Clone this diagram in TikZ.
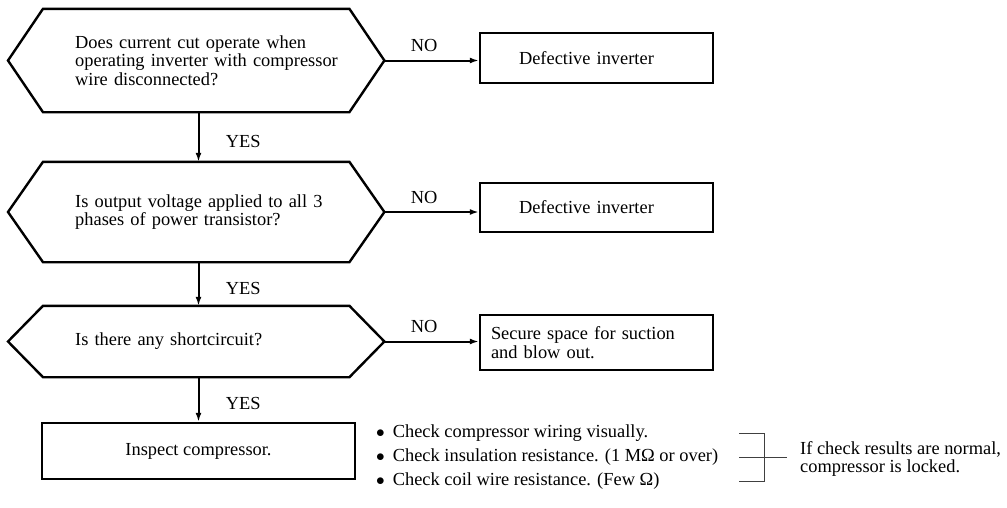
\documentclass[tikz,border=0pt]{standalone}
\usepackage{fontspec}
\setmainfont{Liberation Serif}
\usetikzlibrary{arrows.meta,positioning}

\begin{document}
\begin{tikzpicture}[
  x=1pt, y=-1pt,
  font=\fontsize{18.4pt}{18.5pt}\selectfont,
  outline/.style={line width=2.4pt, line join=miter},
  arr/.style={line width=2pt, -{Latex[length=9pt,width=6pt]}},
  question/.style={align=left, text width=274pt, inner sep=0pt, anchor=west},
  result/.style={draw, line width=2.4pt, minimum width=233pt, align=left},
  check/.style={anchor=west, inner sep=0pt},
  bracket/.style={line width=1pt, draw=black!75}
]
\useasboundingbox (0,0) rectangle (1007,507);

% decisions
\node[question, minimum height=103pt] (q1) at (75,60.5) {Does current cut operate when\\operating inverter with compressor\\wire disconnected?};
\node[question, minimum height=100pt] (q2) at (75,212) {Is output voltage applied to all 3\\phases of power transistor?};
\node[question, minimum height=71pt] (q3) at (75,341.5) {Is there any shortcircuit?};

\foreach \q in {q1,q2,q3}
  \draw[outline] ([xshift=-32pt]\q.north west) -- (\q.north east) -- ([xshift=35pt]\q.east)
    -- (\q.south east) -- ([xshift=-32pt]\q.south west) -- ([xshift=-67pt]\q.west) -- cycle;

% results
\node[result, minimum height=50pt, text width=155pt, inner xsep=39pt] (d1) at (596.5,58) {Defective inverter};
\node[result, minimum height=49pt, text width=155pt, inner xsep=39pt] (d2) at (596.5,207.5) {Defective inverter};
\node[result, minimum height=55pt, text width=211pt, inner xsep=11pt] (d3) at (596.5,342.5) {Secure space for suction\\and blow out.};
\node[draw, line width=2.4pt, minimum width=313pt, minimum height=56pt] (i1) at (198.5,451) {Inspect compressor.};

% connectors
\draw[arr] ([xshift=35pt]q1.east) -- node[above=4pt, pos=0.42] (no1) {NO} (d1.west |- q1.east);
\draw[arr] ([xshift=35pt]q2.east) -- node[above=4pt, pos=0.42] (no2) {NO} (d2.west |- q2.east);
\draw[arr] ([xshift=35pt]q3.east) -- node[above=4pt, pos=0.42] (no3) {NO} (d3.west |- q3.east);

\draw[arr] (q1.south -| i1.north) -- node[right=23pt, pos=0.6] (yes1) {YES} (q2.north -| i1.north);
\draw[arr] (q2.south -| i1.north) -- node[right=23pt, pos=0.6] (yes2) {YES} (q3.north -| i1.north);
\draw[arr] (q3.south -| i1.north) -- node[right=23pt, pos=0.6] (yes3) {YES} (i1.north);

% checks
\node[check] (c1) at (376,433) {$\bullet$\hspace{8pt}Check compressor wiring visually.};
\node[check] (c2) at (376,457) {$\bullet$\hspace{8pt}Check insulation resistance. (1 MΩ or over)};
\node[check] (c3) at (376,481) {$\bullet$\hspace{8pt}Check coil wire resistance. (Few Ω)};

\draw[bracket] (739,433) -- (764,433) -- (764,481) -- (739,481);
\draw[bracket] (739,457) -- (787,457);
\node[check, align=left] (r1) at (800,459) {If check results are normal,\\compressor is locked.};

\end{tikzpicture}
\end{document}
